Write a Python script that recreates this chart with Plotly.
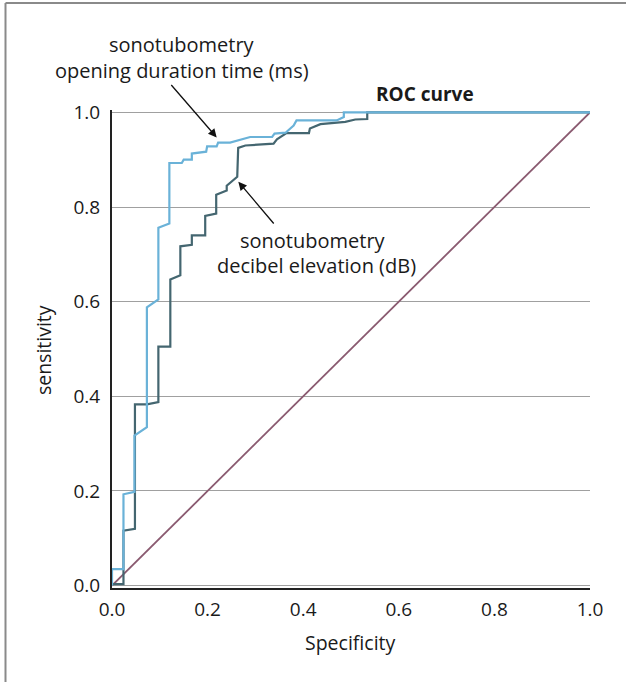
import plotly.graph_objects as go

# Opening duration time (ms) ROC curve (light blue)
open_x = [0, 0, 0.024, 0.024, 0.047, 0.047, 0.073, 0.073, 0.097, 0.097, 0.120, 0.120, 0.146, 0.150, 0.167,
          0.167, 0.197, 0.199, 0.219, 0.222, 0.247, 0.289, 0.335, 0.340, 0.363, 0.380, 0.386, 0.470, 0.485,
          0.485, 1.0]
open_y = [0, 0.035, 0.035, 0.193, 0.198, 0.317, 0.335, 0.588, 0.605, 0.756, 0.765, 0.893, 0.893, 0.900, 0.900,
          0.913, 0.917, 0.928, 0.928, 0.936, 0.936, 0.948, 0.948, 0.955, 0.957, 0.972, 0.983, 0.983, 0.990,
          1.0, 1.0]

# Decibel elevation (dB) ROC curve (dark slate)
db_x = [0, 0.024, 0.024, 0.048, 0.048, 0.073, 0.097, 0.097, 0.122, 0.122, 0.143, 0.143, 0.167, 0.167,
        0.195, 0.195, 0.218, 0.218, 0.240, 0.240, 0.262, 0.264, 0.279, 0.338, 0.345, 0.355, 0.365, 0.412,
        0.414, 0.436, 0.488, 0.509, 0.534, 0.534, 1.0]
db_y = [0.003, 0.003, 0.116, 0.120, 0.383, 0.383, 0.388, 0.505, 0.505, 0.647, 0.656, 0.717, 0.720, 0.740,
        0.740, 0.781, 0.786, 0.826, 0.835, 0.845, 0.864, 0.925, 0.930, 0.934, 0.943, 0.950, 0.956, 0.956,
        0.966, 0.975, 0.980, 0.985, 0.986, 1.0, 1.0]

# Reference diagonal
diag_x = [0, 1]
diag_y = [0, 1]

tick_vals = [0, 0.2, 0.4, 0.6, 0.8, 1.0]
tick_text = ["0.0", "0.2", "0.4", "0.6", "0.8", "1.0"]

FONT = "Open Sans"
TXT = "#1a1a1a"


def label(x, y, text, size=20, angle=0):
    return dict(xref="paper", yref="paper", x=x, y=y, text=text, showarrow=False,
                xanchor="center", yanchor="middle", textangle=angle,
                font=dict(size=size, color=TXT, family=FONT))


fig = go.Figure()
fig.add_trace(go.Scatter(x=diag_x, y=diag_y, mode="lines",
                         line=dict(color="#8a5a70", width=1.8), hoverinfo="skip"))
fig.add_trace(go.Scatter(x=db_x, y=db_y, mode="lines",
                         line=dict(color="#446670", width=2.2), hoverinfo="skip"))
fig.add_trace(go.Scatter(x=open_x, y=open_y, mode="lines",
                         line=dict(color="#6ab2d8", width=2.2), hoverinfo="skip"))

annotations = [
    label(0.1464, 1.136, "sonotubometry"),
    label(0.1464, 1.0816, "opening duration time (ms)"),
    label(0.4205, 0.728, "sonotubometry"),
    label(0.4268, 0.6757, "decibel elevation (dB)"),
    label(0.6548, 1.0335, "<b>ROC curve</b>", size=19),
    label(0.498, -0.115, "Specificity", size=19.5),
    label(-0.142, 0.498, "sensitivity", size=19.5, angle=-90),
    dict(xref="x", yref="y", axref="x", ayref="y", x=0.219, y=0.947, ax=0.1213, ay=1.061, text="",
         showarrow=True, arrowhead=2, arrowsize=1.3, arrowwidth=1.3, arrowcolor="#111"),
    dict(xref="x", yref="y", axref="x", ayref="y", x=0.2643, y=0.8535, ax=0.341, ay=0.762, text="",
         showarrow=True, arrowhead=2, arrowsize=1.3, arrowwidth=1.3, arrowcolor="#111"),
]

shapes = [
    dict(type="line", xref="paper", yref="paper", x0=-0.2228, x1=-0.2228, y0=-0.25, y1=1.2238,
         line=dict(color="#8a8a8a", width=2)),
    dict(type="line", xref="paper", yref="paper", x0=-0.2228, x1=1.1, y0=1.2238, y1=1.2238,
         line=dict(color="#8a8a8a", width=2)),
]

fig.update_layout(
    width=626, height=682,
    margin=dict(l=112, r=36, t=110, b=94),
    paper_bgcolor="white", plot_bgcolor="white",
    showlegend=False,
    font=dict(family=FONT, size=19, color=TXT),
    annotations=annotations,
    shapes=shapes,
)
fig.update_xaxes(range=[0, 1.0], tickvals=tick_vals, ticktext=tick_text, showgrid=False, zeroline=False,
                 showline=True, linecolor="#222", linewidth=2, ticks="outside", ticklen=3,
                 tickcolor="rgba(0,0,0,0)", tickfont=dict(size=19, color=TXT, family=FONT))
fig.update_yaxes(range=[-0.005, 1.005], tickvals=tick_vals, ticktext=tick_text, showgrid=True,
                 gridcolor="#a0a0a0", gridwidth=1, zeroline=False,
                 showline=True, linecolor="#222", linewidth=2, ticks="outside", ticklen=6,
                 tickcolor="rgba(0,0,0,0)", tickfont=dict(size=19, color=TXT, family=FONT))

fig.write_html("out.html")
